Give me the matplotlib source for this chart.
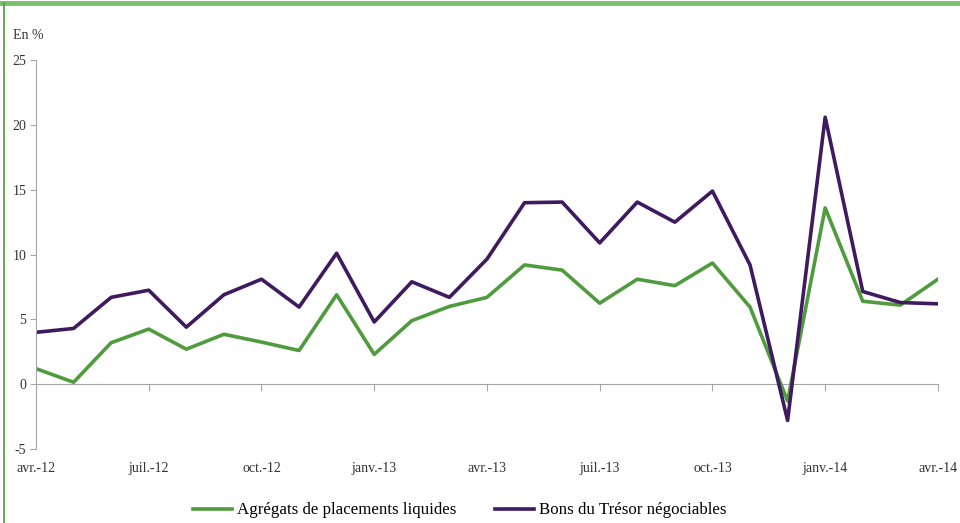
import numpy as np
import matplotlib.pyplot as plt
from matplotlib.lines import Line2D

# mois de avr.-12 a avr.-14
mois = ['avr.-12', 'mai-12', 'juin-12', 'juil.-12', 'août-12', 'sept.-12', 'oct.-12',
        'nov.-12', 'déc.-12', 'janv.-13', 'févr.-13', 'mars-13', 'avr.-13', 'mai-13',
        'juin-13', 'juil.-13', 'août-13', 'sept.-13', 'oct.-13', 'nov.-13', 'déc.-13',
        'janv.-14', 'févr.-14', 'mars-14', 'avr.-14']
agregats = [1.2, 0.15, 3.2, 4.25, 2.7, 3.85, 3.25, 2.6, 6.9, 2.3, 4.9, 6.0, 6.7,
            9.2, 8.8, 6.25, 8.1, 7.6, 9.35, 5.95, -1.3, 13.6, 6.4, 6.1, 8.1]
bons = [4.0, 4.3, 6.7, 7.25, 4.4, 6.9, 8.1, 5.95, 10.1, 4.8, 7.9, 6.7, 9.65,
        14.0, 14.05, 10.9, 14.05, 12.5, 14.9, 9.2, -2.8, 20.6, 7.15, 6.3, 6.2]
yticks = [-5, 0, 5, 10, 15, 20, 25]

plt.rcParams['font.family'] = ['Liberation Serif', 'DejaVu Serif']
vert = '#4f9b3e'
violet = '#3f1a5f'
gris = '#a6a6a6'

fig = plt.figure(figsize=(9.6, 5.23), dpi=100)
ax = fig.add_axes([0.0375, 0.1415, 0.9395, 0.7435])
x = np.arange(len(mois))
ax.plot(x, agregats, color=vert, lw=2.6, label='Agrégats de placements liquides')
ax.plot(x, bons, color=violet, lw=2.6, label='Bons du Trésor négociables')

ax.set_xlim(0, len(mois) - 1)
ax.set_ylim(-5, 25)
ax.set_yticks(yticks)
ax.set_yticklabels([str(v) for v in yticks], fontsize=10, color='#333333')
ax.tick_params(axis='y', direction='out', length=4, color=gris, pad=3)

# etiquettes x en bas, sans graduation
pos = x[::3]
ax.set_xticks(pos)
ax.set_xticklabels([mois[i] for i in pos], fontsize=10, color='#333333')
ax.tick_params(axis='x', length=0, pad=9.5)
for s in ['top', 'right', 'bottom']:
    ax.spines[s].set_visible(False)
ax.spines['left'].set_color(gris)

# axe horizontal a zero avec graduations
zero = (0 - (-5)) / 30.0
sec = ax.secondary_xaxis(zero)
sec.set_xticks(pos)
sec.set_xticklabels([])
sec.tick_params(direction='out', length=5, color=gris)
sec.spines['bottom'].set_color(gris)

fig.text(0.014, 0.925, 'En %', fontsize=10, color='#333333')

leg = fig.legend(loc='center', bbox_to_anchor=(0.479, 0.024), ncol=2,
                 frameon=False, fontsize=12.2, handlelength=2.3,
                 handletextpad=0.3, columnspacing=2.3)

# cadre vert
fig.add_artist(Line2D([0, 1], [0.995, 0.995], transform=fig.transFigure, color='#7dbd6e', lw=3.5))
fig.add_artist(Line2D([0.0045, 0.0045], [0, 0.995], transform=fig.transFigure, color=vert, lw=1.2))

fig.savefig('out.png', dpi=100)
